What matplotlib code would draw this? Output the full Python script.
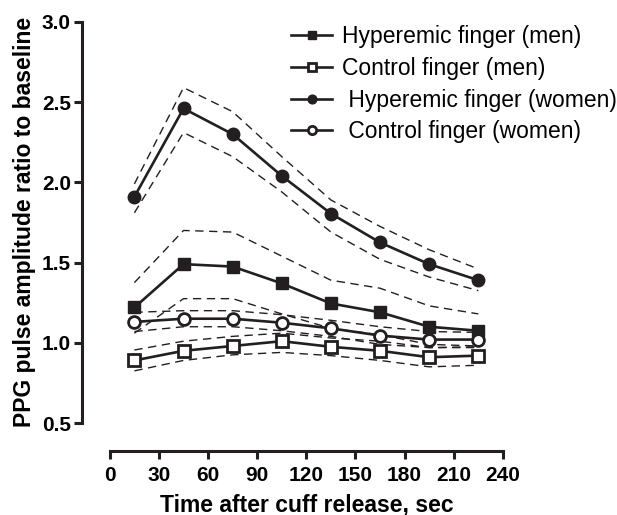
import matplotlib.pyplot as plt

plt.rcParams['font.family'] = ['Liberation Sans', 'DejaVu Sans']

# time points (sec)
time = [15, 45, 75, 105, 135, 165, 195, 225]

# means
hyper_men = [1.22, 1.49, 1.475, 1.37, 1.245, 1.19, 1.10, 1.075]
control_men = [0.89, 0.95, 0.98, 1.01, 0.975, 0.95, 0.91, 0.92]
hyper_women = [1.91, 2.46, 2.30, 2.04, 1.805, 1.625, 1.49, 1.39]
control_women = [1.13, 1.15, 1.15, 1.125, 1.09, 1.045, 1.02, 1.02]

# confidence bands (upper / lower)
hyper_men_hi = [1.375, 1.70, 1.69, 1.54, 1.39, 1.34, 1.23, 1.18]
hyper_men_lo = [1.06, 1.275, 1.275, 1.18, 1.09, 1.05, 0.99, 0.98]
control_men_hi = [0.955, 1.01, 1.04, 1.06, 1.03, 1.01, 0.97, 0.97]
control_men_lo = [0.825, 0.89, 0.925, 0.94, 0.92, 0.89, 0.85, 0.86]
hyper_women_hi = [1.99, 2.59, 2.44, 2.16, 1.89, 1.725, 1.58, 1.46]
hyper_women_lo = [1.81, 2.31, 2.16, 1.94, 1.69, 1.52, 1.41, 1.325]
control_women_hi = [1.19, 1.20, 1.20, 1.175, 1.14, 1.10, 1.07, 1.065]
control_women_lo = [1.07, 1.10, 1.10, 1.075, 1.04, 0.99, 0.97, 0.975]

fig = plt.figure(figsize=(6.17, 5.15), dpi=100)
ax = fig.add_axes([0.178, 0.1786, 0.637, 0.779])

k = '#231f20'
dash = dict(color=k, lw=1.0, ls=(0, (6, 4)))
for hi, lo in [(hyper_men_hi, hyper_men_lo), (control_men_hi, control_men_lo),
               (hyper_women_hi, hyper_women_lo), (control_women_hi, control_women_lo)]:
    ax.plot(time, hi, **dash)
    ax.plot(time, lo, **dash)

ms = 8.5
lw = 1.9
ax.plot(time, hyper_men, '-s', color=k, lw=lw, ms=ms, mfc=k, mec=k,
        label='Hyperemic finger (men)')
ax.plot(time, control_men, '-s', color=k, lw=lw, ms=ms, mfc='white', mec=k, mew=2,
        label='Control finger (men)')
ax.plot(time, hyper_women, '-o', color=k, lw=lw, ms=ms + 0.5, mfc=k, mec=k,
        label=' Hyperemic finger (women)')
ax.plot(time, control_women, '-o', color=k, lw=lw, ms=ms, mfc='white', mec=k, mew=2,
        label=' Control finger (women)')

ax.set_xlim(0, 240)
ax.set_ylim(0.5, 3.0)
ax.set_xticks(range(0, 241, 30))
ax.set_yticks([0.5, 1.0, 1.5, 2.0, 2.5, 3.0])
ax.set_yticklabels(['0.5', '1.0', '1.5', '2.0', '2.5', '3.0'])

for s in ['top', 'right']:
    ax.spines[s].set_visible(False)
ax.spines['left'].set_position(('outward', 20))
ax.spines['bottom'].set_position(('outward', 20))
for s in ['left', 'bottom']:
    ax.spines[s].set_linewidth(2.2)
    ax.spines[s].set_color(k)
ax.tick_params(width=2.2, length=6, color=k, labelsize=15)
ax.tick_params(axis='x', pad=5)
ax.tick_params(axis='y', pad=2)
for lab in ax.get_xticklabels() + ax.get_yticklabels():
    lab.set_fontweight('bold')

ax.set_xlabel('Time after cuff release, sec', fontsize=16.5, fontweight='bold', labelpad=6)
ax.set_ylabel('PPG pulse amplitude ratio to baseline', fontsize=16.5, fontweight='bold', labelpad=4)

leg = ax.legend(loc='upper left', bbox_to_anchor=(0.472, 0.951), bbox_transform=fig.transFigure,
                frameon=False, fontsize=16.5, markerscale=0.7, handlelength=1.8,
                labelspacing=0.38, handletextpad=0.4, borderaxespad=0, borderpad=0)

fig.savefig('out.png', dpi=100)
